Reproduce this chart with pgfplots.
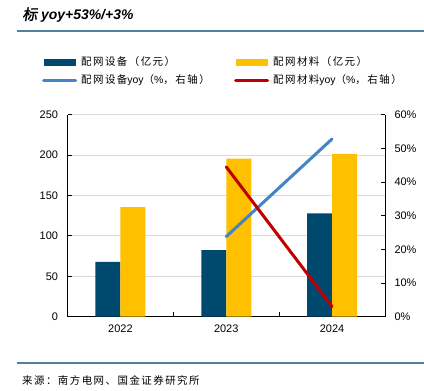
\documentclass[border=0pt]{standalone}
\usepackage{fontspec}
\setmainfont{Liberation Sans}
\newfontfamily\cjk{Noto Sans CJK SC}[LetterSpace=14]
\newfontfamily\cjktitle{Noto Sans CJK SC}[FakeSlant=0.2, FakeBold=1.5]
\usepackage{pgfplots}
\pgfplotsset{compat=1.18}
\definecolor{barblue}{RGB}{0,73,110}
\definecolor{baryellow}{RGB}{255,192,0}
\definecolor{lineblue}{RGB}{68,131,196}
\definecolor{linered}{RGB}{192,0,0}
\definecolor{rulecol}{RGB}{80,128,158}
\begin{document}
\begin{tikzpicture}
\path[use as bounding box, fill=white] (0bp,0bp) rectangle (424bp,391bp);
\node[anchor=west, inner sep=0pt] at (22bp,376bp) {{\cjktitle\fontsize{15}{17}\selectfont 标}\hspace{4bp}{\fontsize{14}{16}\selectfont\bfseries\itshape yoy+53\%/+3\%}};
\draw[rulecol, line width=1.5bp] (17bp,360bp) -- (424bp,360bp);
\draw[rulecol, line width=1.5bp] (17bp,28bp) -- (424bp,28bp);
\node[anchor=west, inner sep=0pt] at (22bp,11bp) {\cjk\fontsize{10.5}{12}\selectfont 来源：南方电网、国金证券研究所};
\begin{axis}[
  name=main,
  at={(67.5bp,74.3bp)}, anchor=south west,
  width=317.5bp, height=202bp, scale only axis,
  ybar, bar width=25bp,
  xmin=-0.5, xmax=2.5, ymin=0, ymax=250,
  ytick={0,50,...,250},
  xtick={0,1,2}, xticklabels={2022,2023,2024},
  minor xtick={0.5,1.5},
  axis x line*=bottom, axis y line*=left,
  axis line style={-, line width=0.8bp, black},
  tick align=inside,
  major tick length=4bp, minor tick length=5bp,
  tick style={black, line width=0.8bp},
  major x tick style={draw=none},
  ymajorgrids, grid style={black!15, line width=0.8bp},
  /pgf/number format/assume math mode=true,
  tick label style={font=\fontsize{11}{13}\selectfont},
  yticklabel style={xshift=-6bp},
  xticklabel style={yshift=-5bp},
]
\addplot[fill=barblue, draw=none, bar shift=-12.5bp] coordinates {(0,68) (1,82.5) (2,128)};
\addplot[fill=baryellow, draw=none, bar shift=12.5bp] coordinates {(0,135.5) (1,195.5) (2,201.5)};
\end{axis}
\begin{axis}[
  at={(67.5bp,74.3bp)}, anchor=south west,
  width=317.5bp, height=202bp, scale only axis,
  xmin=-0.5, xmax=2.5, ymin=0, ymax=60,
  ytick={0,10,...,60},
  /pgf/number format/assume math mode=true,
  yticklabel={\pgfmathprintnumber{\tick}\%},
  axis x line=none, axis y line*=right,
  axis line style={-, line width=0.8bp, black},
  tick align=inside, major tick length=4bp,
  tick style={black, line width=0.8bp},
  tick label style={font=\fontsize{11}{13}\selectfont},
  yticklabel style={xshift=6bp},
  legend columns=2,
  legend style={at={(-0.0803,1.285)}, anchor=north west, draw=none, fill=none,
    inner sep=0pt, column sep=0pt, row sep=8bp,
    nodes={inner xsep=4bp, inner ysep=0bp, text height=8bp, text depth=2bp, anchor=west},
    font=\fontsize{10.5}{12}\selectfont},
  legend cell align=left,
]
\addlegendimage{area legend, fill=barblue, draw=none, legend image code/.code={\fill[barblue] (0bp,-3.5bp) rectangle (32bp,3.5bp);}}
\addlegendentry{\makebox[149bp][l]{\cjk 配网设备（亿元）}}
\addlegendimage{area legend, fill=baryellow, draw=none, legend image code/.code={\fill[baryellow] (0bp,-3.5bp) rectangle (32bp,3.5bp);}}
\addlegendentry{{\cjk 配网材料（亿元）}}
\addplot[color=lineblue, line width=3bp, line cap=round, legend image code/.code={\draw[lineblue, line width=3bp] (0bp,0bp) -- (32bp,0bp);}] coordinates {(1,23.8) (2,52.8)};
\addlegendentry{\makebox[149bp][l]{{\cjk 配网设备}yoy{\cjk （}\%{\cjk ，右轴）}}}
\addplot[color=linered, line width=3bp, line cap=round, legend image code/.code={\draw[linered, line width=3bp] (0bp,0bp) -- (32bp,0bp);}] coordinates {(1,44.5) (2,3)};
\addlegendentry{{\cjk 配网材料}yoy{\cjk （}\%{\cjk ，右轴）}}
\end{axis}
\end{tikzpicture}
\end{document}
